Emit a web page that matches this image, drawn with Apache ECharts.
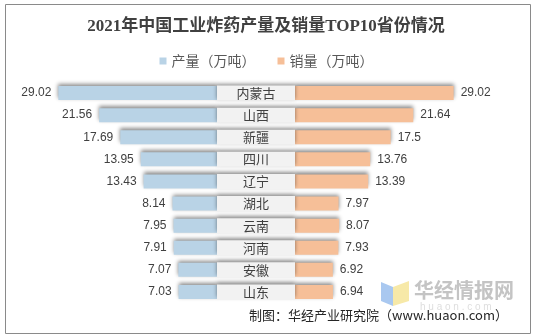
<!DOCTYPE html>
<html><head><meta charset="utf-8">
<script src="https://cdn.jsdelivr.net/npm/echarts@6/dist/echarts.min.js"></script>
<style>html,body{margin:0;padding:0;background:#fff}#c{width:533px;height:334px}</style>
</head><body><div id="c"></div>
<script>
const provinces = ['内蒙古','山西','新疆','四川','辽宁','湖北','云南','河南','安徽','山东'];
const production = [29.02,21.56,17.69,13.95,13.43,8.14,7.95,7.91,7.07,7.03];
const sales = [29.02,21.64,17.5,13.76,13.39,7.97,8.07,7.93,6.92,6.94];
const seriesNames = ['产量（万吨）','销量（万吨）'];
const titleText = '2021年中国工业炸药产量及销量TOP10省份情况';
const sourceText = '制图：华经产业研究院（www.huaon.com）';

const chart = echarts.init(document.getElementById('c'));
const TOP = 82, BOTTOM = 31, BW = 14;
const shadow = {shadowColor:'rgba(0,0,0,0.45)', shadowBlur:4, shadowOffsetY:-2};
const lbl = {color:'#404040', fontSize:12, fontFamily:'Liberation Sans, Arial, sans-serif', distance:7};
const yCat = (gi) => ({type:'category', gridIndex:gi, data:provinces, inverse:true, show:false});
chart.setOption({
  animation:false,
  backgroundColor:'#fff',
  title:{text:titleText, left:261, textAlign:'center', top:13,
    textStyle:{fontSize:17, fontWeight:'bold', color:'#404040', fontFamily:'Liberation Serif, "Noto Sans CJK SC", serif'}},
  legend:{data:seriesNames, top:49, left:'center', icon:'rect', itemWidth:7, itemHeight:7, itemGap:22,
    textStyle:{fontSize:14, color:'#595959', fontFamily:'"Noto Sans CJK SC", sans-serif'}},
  grid:[
    {left:53, right:316, top:TOP, bottom:BOTTOM},
    {left:295, right:74, top:TOP, bottom:BOTTOM},
    {left:217, right:238, top:TOP, bottom:BOTTOM}
  ],
  xAxis:[
    {type:'value', gridIndex:0, min:0, max:30, inverse:true, show:false},
    {type:'value', gridIndex:1, min:0, max:30, show:false},
    {type:'value', gridIndex:2, min:0, max:1, show:false}
  ],
  yAxis:[yCat(0), yCat(1), yCat(2)],
  series:[
    {name:seriesNames[0], type:'bar', xAxisIndex:0, yAxisIndex:0, data:production, barWidth:BW,
      itemStyle:Object.assign({color:'#b9d3e6'}, shadow),
      label:Object.assign({show:true, position:'left'}, lbl)},
    {name:seriesNames[1], type:'bar', xAxisIndex:1, yAxisIndex:1, data:sales, barWidth:BW,
      itemStyle:Object.assign({color:'#f6bf98'}, shadow),
      label:Object.assign({show:true, position:'right'}, lbl)},
    {name:'box', type:'bar', xAxisIndex:2, yAxisIndex:2, data:provinces.map(() => 1), barWidth:BW+1,
      itemStyle:Object.assign({color:'#f2f2f2'}, shadow), silent:true,
      label:{show:true, position:'inside', formatter:'{b}', color:'#404040', fontSize:13, fontFamily:'"Noto Sans CJK SC", sans-serif'}}
  ],
  graphic:[
    {type:'rect', left:3, top:2, shape:{width:525, height:329}, style:{fill:'none', stroke:'#8a8a8a', lineWidth:1}, silent:true},
    {type:'polygon', shape:{points:[[381,282],[393,287],[393,306],[381,301]]}, style:{fill:'#a9c8f0'}, silent:true},
    {type:'polygon', shape:{points:[[393,287],[409,281],[409,301],[393,306]]}, style:{fill:'#f7e9a8'}, silent:true},
    {type:'text', left:414, top:280, style:{text:'华经情报网', fill:'#c4c4c4', font:'bold 20px "Noto Sans CJK SC", sans-serif'}, silent:true},
    {type:'text', left:420, top:302, style:{text:'h u a o n . c o m', fill:'#dedede', font:'10px "Liberation Sans", sans-serif'}, silent:true},
    {type:'text', right:25, top:309, style:{text:sourceText, fill:'#262626', font:'13px "Noto Sans CJK SC", sans-serif'}}
  ]
});
</script></body></html>
